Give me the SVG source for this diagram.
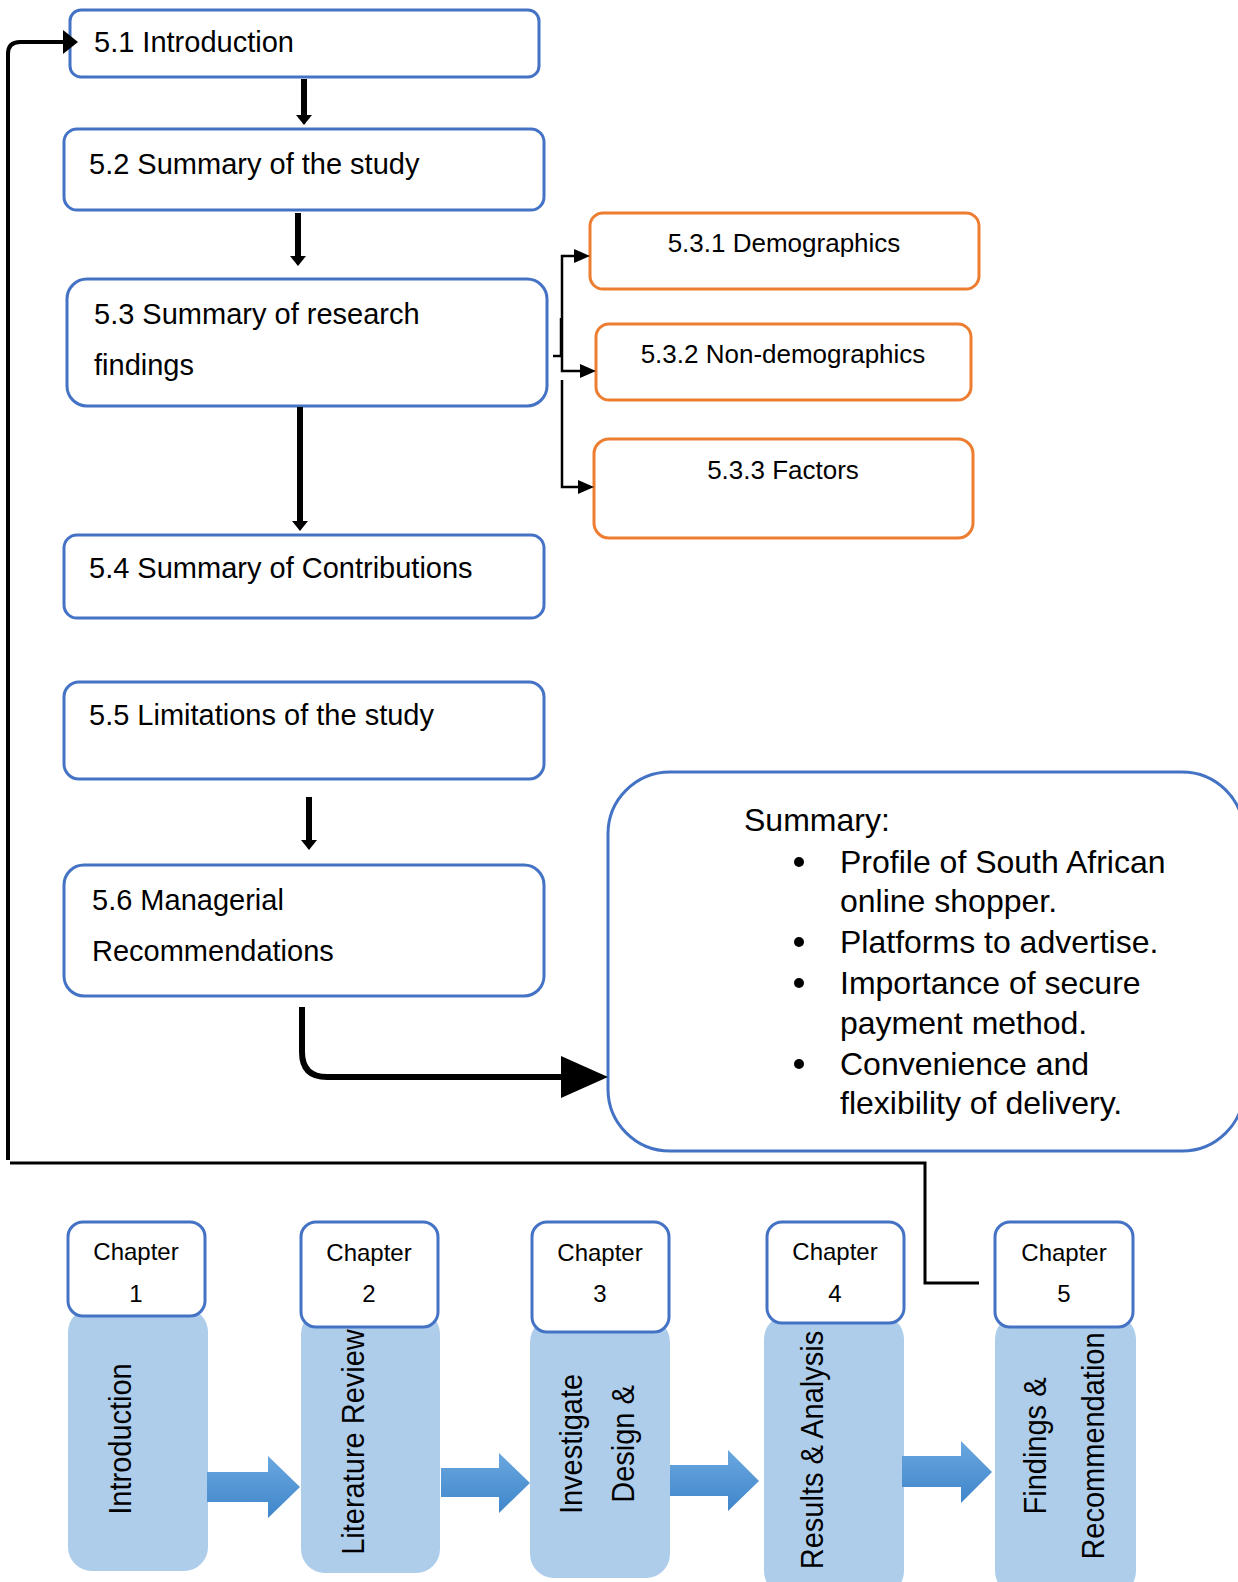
<svg xmlns="http://www.w3.org/2000/svg" width="1238" height="1582" viewBox="0 0 1238 1582">
  <defs>
    <linearGradient id="blockArrow" x1="0" y1="0" x2="0" y2="1">
      <stop offset="0" stop-color="#6AA7DF"/>
      <stop offset="1" stop-color="#3F86CA"/>
    </linearGradient>
  </defs>
  <style>
    text { font-family: "Liberation Sans", Arial, sans-serif; fill: #000; }
    .box { fill: #fff; stroke: #4472C4; stroke-width: 3; }
    .sub { fill: #fff; stroke: #ED7D31; stroke-width: 3; }
    .main { font-size: 29px; }
    .subt { font-size: 26px; text-anchor: middle; }
    .sum { font-size: 32px; }
    .col { fill: #AECDEB; }
    .chap { fill: #fff; stroke: #4472C4; stroke-width: 3; }
    .chapt { font-size: 24px; text-anchor: middle; }
    .vert { font-size: 29px; text-anchor: middle; }
    .line { fill: none; stroke: #000; }
    .head { fill: #000; }
    .barrow { fill: url(#blockArrow); }
  </style>

  <!-- section boxes of chapter 5 -->
  <g id="n51">
    <rect class="box" x="70" y="10" width="469" height="67" rx="11"/>
    <text class="main" x="94" y="52">5.1 Introduction</text>
  </g>
  <g id="n52">
    <rect class="box" x="64" y="129" width="480" height="81" rx="13"/>
    <text class="main" x="89" y="174">5.2 Summary of the study</text>
  </g>
  <g id="n53">
    <rect class="box" x="67" y="279" width="480" height="127" rx="20"/>
    <text class="main" x="94" y="324">5.3 Summary of research</text>
    <text class="main" x="94" y="375">findings</text>
  </g>
  <g id="n531">
    <rect class="sub" x="590" y="213" width="389" height="76" rx="13"/>
    <text class="subt" x="784" y="252">5.3.1 Demographics</text>
  </g>
  <g id="n532">
    <rect class="sub" x="596" y="324" width="375" height="76" rx="13"/>
    <text class="subt" x="783" y="363">5.3.2 Non-demographics</text>
  </g>
  <g id="n533">
    <rect class="sub" x="594" y="439" width="379" height="99" rx="15"/>
    <text class="subt" x="783" y="479">5.3.3 Factors</text>
  </g>
  <g id="n54">
    <rect class="box" x="64" y="535" width="480" height="83" rx="13"/>
    <text class="main" x="89" y="578">5.4 Summary of Contributions</text>
  </g>
  <g id="n55">
    <rect class="box" x="64" y="682" width="480" height="97" rx="15"/>
    <text class="main" x="89" y="725">5.5 Limitations of the study</text>
  </g>
  <g id="n56">
    <rect class="box" x="64" y="865" width="480" height="131" rx="20"/>
    <text class="main" x="92" y="910">5.6 Managerial</text>
    <text class="main" x="92" y="961">Recommendations</text>
  </g>
  <g id="summary">
    <rect class="box" x="608" y="772" width="636" height="379" rx="62"/>
    <text class="sum" x="744" y="831">Summary:</text>
    <g class="bullets">
      <circle cx="799" cy="862" r="5"/>
      <circle cx="799" cy="942" r="5"/>
      <circle cx="799" cy="983" r="5"/>
      <circle cx="799" cy="1064" r="5"/>
    </g>
    <text class="sum" x="840" y="873">Profile of South African</text>
    <text class="sum" x="840" y="912">online shopper.</text>
    <text class="sum" x="840" y="953">Platforms to advertise.</text>
    <text class="sum" x="840" y="994">Importance of secure</text>
    <text class="sum" x="840" y="1034">payment method.</text>
    <text class="sum" x="840" y="1075">Convenience and</text>
    <text class="sum" x="840" y="1114">flexibility of delivery.</text>
  </g>

  <!-- chapter columns -->
  <g id="ch1">
    <rect class="col" x="68" y="1308" width="140" height="263" rx="24"/>
    <rect class="chap" x="68" y="1222" width="137" height="94" rx="15"/>
    <text class="chapt" x="136" y="1260">Chapter</text>
    <text class="chapt" x="136" y="1302">1</text>
    <text class="vert" transform="translate(131,1439) rotate(-90) scale(1,1.1)">Introduction</text>
  </g>
  <g id="ch2">
    <rect class="col" x="301" y="1310" width="139" height="263" rx="24"/>
    <rect class="chap" x="301" y="1222" width="137" height="105" rx="15"/>
    <text class="chapt" x="369" y="1261">Chapter</text>
    <text class="chapt" x="369" y="1302">2</text>
    <text class="vert" transform="translate(364,1442) rotate(-90) scale(1,1.1)">Literature Review</text>
  </g>
  <g id="ch3">
    <rect class="col" x="530" y="1318" width="140" height="260" rx="24"/>
    <rect class="chap" x="532" y="1222" width="137" height="110" rx="15"/>
    <text class="chapt" x="600" y="1261">Chapter</text>
    <text class="chapt" x="600" y="1302">3</text>
    <text class="vert" transform="translate(582,1444) rotate(-90) scale(1,1.1)">Investigate</text>
    <text class="vert" transform="translate(634,1444) rotate(-90) scale(1,1.1)">Design &amp;</text>
  </g>
  <g id="ch4">
    <rect class="col" x="764" y="1315" width="140" height="280" rx="24"/>
    <rect class="chap" x="767" y="1222" width="137" height="101" rx="15"/>
    <text class="chapt" x="835" y="1260">Chapter</text>
    <text class="chapt" x="835" y="1302">4</text>
    <text class="vert" transform="translate(823,1450) rotate(-90) scale(1,1.1)">Results &amp; Analysis</text>
  </g>
  <g id="ch5">
    <rect class="col" x="995" y="1315" width="141" height="280" rx="24"/>
    <rect class="chap" x="995" y="1222" width="138" height="105" rx="15"/>
    <text class="chapt" x="1064" y="1261">Chapter</text>
    <text class="chapt" x="1064" y="1302">5</text>
    <text class="vert" transform="translate(1046,1446) rotate(-90) scale(1,1.1)">Findings &amp;</text>
    <text class="vert" transform="translate(1104,1446) rotate(-90) scale(1,1.1)">Recommendation</text>
  </g>

  <!-- connectors -->
  <g id="connectors">
    <!-- vertical flow arrows -->
    <line class="line" x1="304" y1="79" x2="304" y2="116" stroke-width="6"/>
    <polygon class="head" points="296,115 312,115 304,125"/>
    <line class="line" x1="298" y1="213" x2="298" y2="257" stroke-width="6"/>
    <polygon class="head" points="290,256 306,256 298,266"/>
    <line class="line" x1="300" y1="407" x2="300" y2="522" stroke-width="6"/>
    <polygon class="head" points="292,521 308,521 300,531"/>
    <line class="line" x1="309" y1="797" x2="309" y2="841" stroke-width="6"/>
    <polygon class="head" points="301,840 317,840 309,850"/>

    <!-- branch to 5.3.x -->
    <line class="line" x1="553" y1="356" x2="562" y2="356" stroke-width="2.5"/>
    <line class="line" x1="561" y1="318" x2="561" y2="356" stroke-width="2.5"/>
    <polyline class="line" points="578,256 562,256 562,371 580,371" stroke-width="2.5"/>
    <polyline class="line" points="562,380 562,487 580,487" stroke-width="2.5"/>
    <polygon class="head" points="574,249 590,256 574,263"/>
    <polygon class="head" points="580,364 596,371 580,378"/>
    <polygon class="head" points="578,480 594,487 578,494"/>

    <!-- 5.6 to summary -->
    <path class="line" d="M302,1007 V1052 Q302,1077 327,1077 H563" stroke-width="6"/>
    <polygon class="head" points="561,1056 608,1077 561,1098"/>

    <!-- return from chapter 5 to 5.1 -->
    <polyline class="line" points="979,1283 925,1283 925,1163 10,1163" stroke-width="3"/>
    <path class="line" d="M8,1160 V54 Q8,42 20,42 H64" stroke-width="4"/>
    <polygon class="head" points="63,30 78,42 63,54"/>

    <!-- chapter progression arrows -->
    <polygon class="barrow" points="207,1472 268,1472 268,1456 300,1487 268,1518 268,1502 207,1502"/>
    <polygon class="barrow" points="441,1468 499,1468 499,1453 530,1483 499,1513 499,1497 441,1497"/>
    <polygon class="barrow" points="670,1465 728,1465 728,1450 759,1481 728,1511 728,1496 670,1496"/>
    <polygon class="barrow" points="902,1456 961,1456 961,1441 992,1472 961,1503 961,1487 902,1487"/>
  </g>
</svg>
